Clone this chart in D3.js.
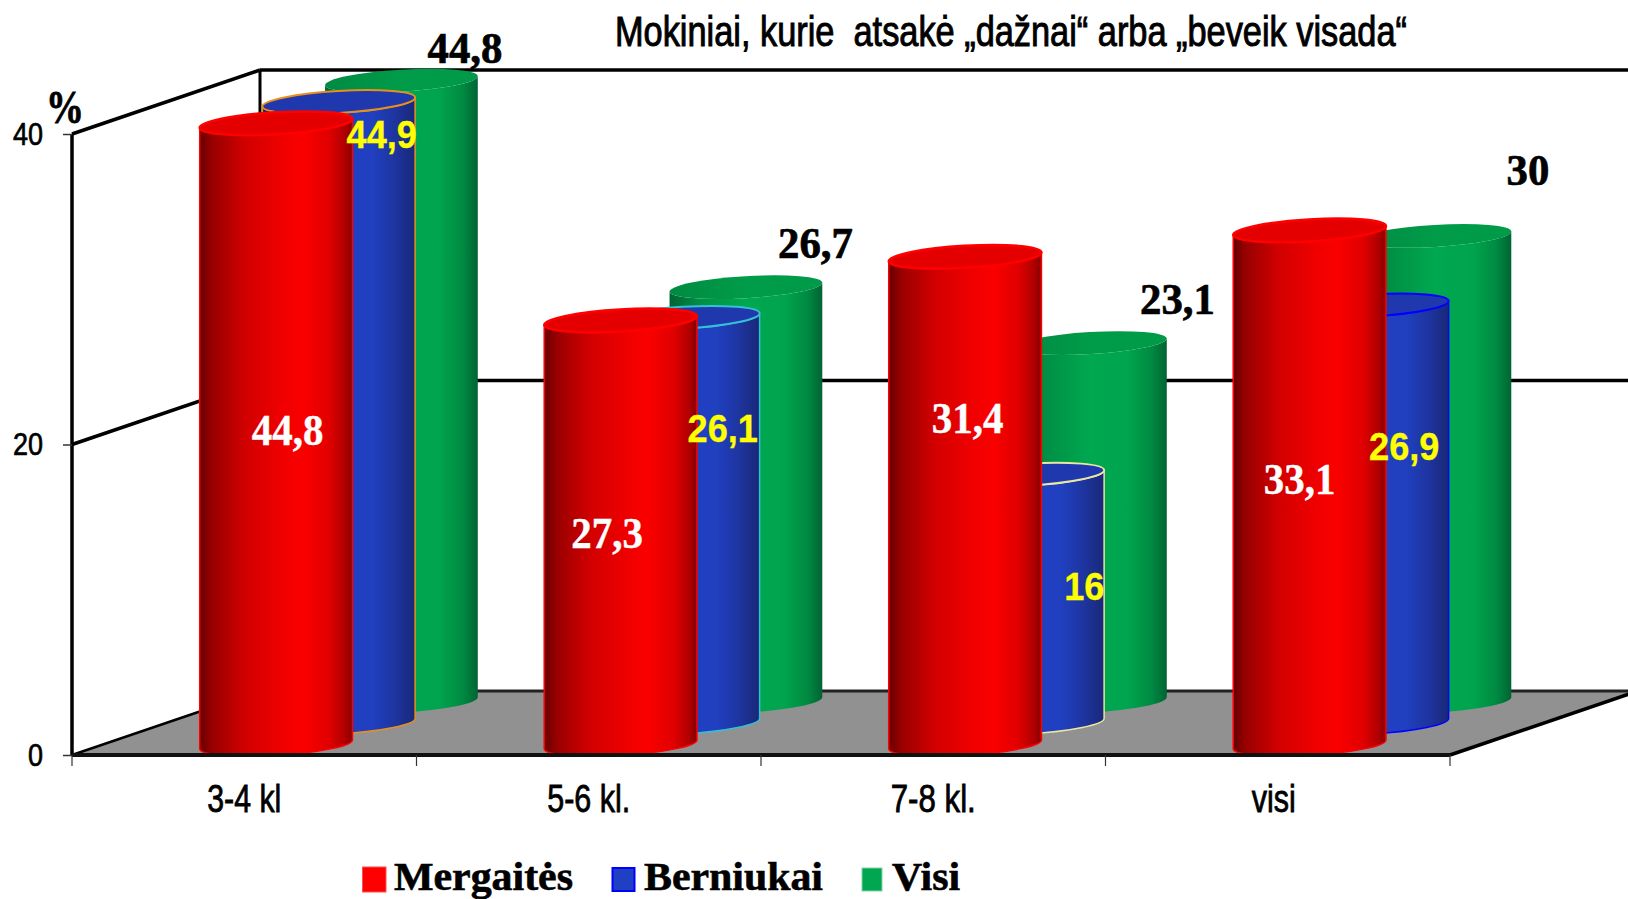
<!DOCTYPE html>
<html><head><meta charset="utf-8">
<script src="https://cdn.jsdelivr.net/npm/d3@7/dist/d3.min.js"></script>
<style>html,body{margin:0;padding:0;background:#fff;overflow:hidden}svg{display:block}</style>
</head><body><svg id="c" width="1628" height="899"></svg>
<script>
const categories = ["3-4 kl", "5-6 kl.", "7-8 kl.", "visi"];
const seriesNames = ["Mergaitės", "Berniukai", "Visi"];
const mergaites = [44.8, 27.3, 31.4, 33.1];
const berniukai = [44.9, 26.1, 16, 26.9];
const visi = [44.8, 26.7, 23.1, 30];
const yTicks = [0, 20, 40];
const labelTexts = [
  ["44,8", "27,3", "31,4", "33,1"],
  ["44,9", "26,1", "16", "26,9"],
  ["44,8", "26,7", "23,1", "30"]
];

// layout
const W = 1628, H = 899;
const X0 = 72, X1 = 1450, Y0 = 755, Y40 = 134, DX = 188, DY = -64;
const RX = 76.5, RY = 11, TILT = -3.4;
const rad = TILT * Math.PI / 180;

// manual label nudges relative to each cylinder's top centre (as in the source chart)
const labelNudge = [
  [[12, 322], [-13, 227], [3, 176], [-9.5, 264]],
  [[43.5, 46], [40, 124.5], [57, 125], [32.5, 155]],
  [[64, -18], [70, -29], [87.5, -29], [93.5, -51]]
];
const labelStyle = [
  {fill: "#fff", family: "'Liberation Serif'", size: 44, squeeze: 0.93, sw: 0.4},
  {fill: "#ffff00", family: "'Liberation Sans'", size: 38, squeeze: 0.95, sw: 0.3},
  {fill: "#000", family: "'Liberation Serif'", size: 45, squeeze: 0.95, sw: 0.7}
];
const catWidths = [74, 83, 85, 44];
const blueStrokes = ["#e8901e", "#35c0d8", "#e8e8a0", "#0000ff"];
const seriesFill = ["#ff0000", "#2040c4", "#00a650"];

const values = [mergaites, berniukai, visi];
const svg = d3.select("#c");
const y = d3.scaleLinear().domain([0, 40]).range([Y0, Y40]).clamp(true);
const x = d3.scaleBand().domain(categories).range([X0, X1]);
const depth = d3.scalePoint().domain(seriesNames).range([0, 1]).padding(0.5);

// gradients
const defs = svg.append("defs");
function grad(id, stops) {
  const g = defs.append("linearGradient").attr("id", id).attr("x1", 0).attr("x2", 1).attr("y1", 0).attr("y2", 0);
  stops.forEach(s => g.append("stop").attr("offset", s[0]).attr("stop-color", s[1]));
}
grad("g0", [[0, "#650000"], [0.08, "#980000"], [0.3, "#d20000"], [0.55, "#f00000"], [0.68, "#fa0000"], [0.85, "#e00000"], [0.95, "#b00000"], [1, "#850000"]]);
grad("g1", [[0, "#101f70"], [0.2, "#1a32a0"], [0.5, "#2040c4"], [0.72, "#2040c0"], [0.88, "#1e339c"], [1, "#182878"]]);
grad("g2", [[0, "#006433"], [0.2, "#008f45"], [0.5, "#00a850"], [0.75, "#00a44e"], [0.9, "#008a42"], [1, "#006433"]]);
grad("t2", [[0, "#008a42"], [0.5, "#009c49"], [1, "#009a48"]]);

// walls and floor
const line = (a, b, c, d, w, col) => svg.append("line").attr("x1", a).attr("y1", b).attr("x2", c).attr("y2", d)
  .attr("stroke", col || "#000").attr("stroke-width", w);
svg.append("polygon").attr("fill", "#919191")
  .attr("points", [[X0, Y0], [X0 + DX, Y0 + DY], [X1 + DX, Y0 + DY], [X1, Y0]].join(" "));
line(X0 + DX, y(0) + DY, X1 + DX, y(0) + DY, 3, "#222");
yTicks.slice(1).forEach(t => {
  line(X0, y(t), X0 + DX, y(t) + DY, 3.5);
  line(X0 + DX, y(t) + DY, W, y(t) + DY, 3.5);
});
line(X0, y(0), X0 + DX, y(0) + DY, 2.5);
line(X0 + DX, y(40) + DY, X0 + DX, y(0) + DY, 3);
line(X1, y(0), X1 + DX, y(0) + DY, 3.5);

// cylinders (back to front)
function cyl(g, cx, baseY, topY, si, catI) {
  const ex = RX * Math.cos(rad), ey = RX * Math.sin(rad);
  const d = `M${cx - ex},${topY - ey} L${cx - ex},${baseY - ey} A${RX},${RY} ${TILT} 0 0 ${cx + ex},${baseY + ey} L${cx + ex},${topY + ey} A${RX},${RY} ${TILT} 0 1 ${cx - ex},${topY - ey} Z`;
  const stroke = si === 0 ? "#ff0000" : si === 1 ? blueStrokes[catI] : "none";
  g.append("path").attr("d", d).attr("fill", `url(#g${si})`).attr("stroke", stroke).attr("stroke-width", 1.5);
  g.append("ellipse").attr("rx", RX).attr("ry", RY)
    .attr("transform", `translate(${cx},${topY}) rotate(${TILT})`)
    .attr("fill", si === 0 ? "#e40000" : si === 1 ? "#1f38ae" : "url(#t2)")
    .attr("stroke", stroke).attr("stroke-width", si === 0 ? 2.5 : 2);
}
const barsG = svg.append("g");
categories.forEach((c, ci) => {
  for (let si = seriesNames.length - 1; si >= 0; si--) {
    const z = depth(seriesNames[si]);
    const cx = x(c) + x.bandwidth() / 2 + z * DX + 0.5;
    const shift = z * DY;
    cyl(barsG.append("g"), cx, y(0) + shift, y(values[si][ci]) + shift, si, ci);
  }
});

// axes
const yAxis = d3.axisLeft(y).tickValues(yTicks).tickSize(9).tickPadding(20).tickFormat(d3.format("d"));
const ay = svg.append("g").attr("transform", `translate(${X0},0)`).call(yAxis);
ay.select(".domain").attr("stroke", "#000").attr("stroke-width", 3.5).attr("d", `M0,${y(40)}V${y(0)}`);
ay.selectAll(".tick line").attr("stroke", "#333").attr("stroke-width", 1.5);
ay.selectAll(".tick text").attr("font-family", "'Liberation Sans'").attr("font-size", 32).attr("fill", "#000")
  .attr("stroke", "#000").attr("stroke-width", 0.7)
  .attr("textLength", d => String(d).length * 15).attr("lengthAdjust", "spacingAndGlyphs");

const xAxis = d3.axisBottom(x).tickSize(0).tickPadding(30);
const ax = svg.append("g").attr("transform", `translate(0,${Y0})`).call(xAxis);
ax.select(".domain").attr("stroke", "#111").attr("stroke-width", 4).attr("d", `M${X0},0H${X1}`);
ax.selectAll(".tick text").attr("font-family", "'Liberation Sans'").attr("font-size", 38).attr("fill", "#000")
  .attr("stroke", "#000").attr("stroke-width", 0.8)
  .attr("textLength", (d, i) => catWidths[i]).attr("lengthAdjust", "spacingAndGlyphs");
ax.selectAll(".tick").filter(d => d === "visi").select("text").attr("x", -4);
x.domain().concat([null]).forEach(c => {
  const px = c === null ? X1 : x(c);
  ax.append("line").attr("x1", px).attr("x2", px).attr("y1", 0).attr("y2", 11).attr("stroke", "#333").attr("stroke-width", 1.2);
});

// data labels
categories.forEach((c, ci) => {
  seriesNames.forEach((s, si) => {
    const z = depth(s);
    const cx = x(c) + x.bandwidth() / 2 + z * DX;
    const top = y(values[si][ci]) + z * DY;
    const st = labelStyle[si], n = labelNudge[si][ci];
    const t = svg.append("text").text(labelTexts[si][ci])
      .attr("x", cx + n[0]).attr("y", top + n[1]).attr("text-anchor", "middle")
      .attr("font-family", st.family).attr("font-weight", "bold").attr("font-size", st.size)
      .attr("fill", st.fill).attr("stroke", st.fill).attr("stroke-width", st.sw);
    t.attr("textLength", t.node().getComputedTextLength() * st.squeeze).attr("lengthAdjust", "spacingAndGlyphs");
  });
});

// title and unit
svg.append("text").text("Mokiniai, kurie  atsakė „dažnai“ arba „beveik visada“")
  .attr("xml:space", "preserve").style("white-space", "pre")
  .attr("x", 615).attr("y", 46).attr("font-family", "'Liberation Sans'").attr("font-size", 43)
  .attr("fill", "#000").attr("stroke", "#000").attr("stroke-width", 1)
  .attr("textLength", 792).attr("lengthAdjust", "spacingAndGlyphs");
svg.append("text").text("%").attr("x", 46).attr("y", 123).attr("font-family", "'Liberation Serif'")
  .attr("font-weight", "bold").attr("font-size", 46).attr("fill", "#000").attr("stroke", "#000").attr("stroke-width", 0.8)
  .attr("textLength", 38).attr("lengthAdjust", "spacingAndGlyphs");

// legend
const legend = [
  {sx: 362.5, sw: 23.5, tx: 394, tw: 179, stroke: "#ff5050", sy: 867, sh: 25},
  {sx: 612.5, sw: 22, tx: 644, tw: 179, stroke: "#0000ff", sy: 868, sh: 23},
  {sx: 862, sw: 20, tx: 892, tw: 68, stroke: "#80d8a8", sy: 868, sh: 23}
];
seriesNames.forEach((s, i) => {
  const l = legend[i];
  svg.append("rect").attr("x", l.sx).attr("y", l.sy).attr("width", l.sw).attr("height", l.sh)
    .attr("fill", seriesFill[i]).attr("stroke", l.stroke).attr("stroke-width", i === 1 ? 2 : 1);
  svg.append("text").text(s).attr("x", l.tx).attr("y", 890).attr("font-family", "'Liberation Serif'")
    .attr("font-weight", "bold").attr("font-size", 40).attr("fill", "#000")
    .attr("stroke", "#000").attr("stroke-width", 0.6)
    .attr("textLength", l.tw).attr("lengthAdjust", "spacingAndGlyphs");
});
</script></body></html>
